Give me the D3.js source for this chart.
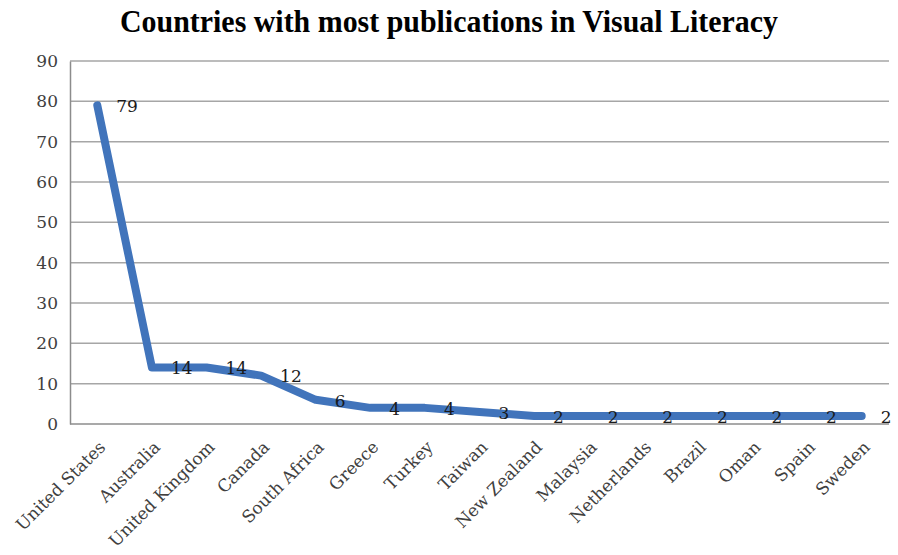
<!DOCTYPE html>
<html>
<head>
<meta charset="utf-8">
<script src="https://cdn.jsdelivr.net/npm/d3@7"></script>
<style>
  body { margin: 0; background: #fff; }
</style>
</head>
<body>
<div id="viz"></div>
<script>
var width = 898;
var height = 555;

var countries = ["United States", "Australia", "United Kingdom", "Canada", "South Africa", "Greece", "Turkey", "Taiwan", "New Zealand", "Malaysia", "Netherlands", "Brazil", "Oman", "Spain", "Sweden"];
var publications = [79, 14, 14, 12, 6, 4, 4, 3, 2, 2, 2, 2, 2, 2, 2];
var yTicks = [0, 10, 20, 30, 40, 50, 60, 70, 80, 90];

var data = countries.map(function(c, i) { return { country: c, value: publications[i] }; });

var plotLeft = 70, plotRight = 889, plotTop = 61, plotBottom = 424;

var x = d3.scalePoint()
	.domain(countries)
	.range([plotLeft, plotRight])
	.padding(0.5);

var y = d3.scaleLinear()
	.domain([0, 90])
	.range([plotBottom, plotTop]);

var svg = d3.select("#viz").append("svg")
	.attr("width", width)
	.attr("height", height);

svg.append("text")
	.attr("x", 449)
	.attr("y", 32)
	.attr("text-anchor", "middle")
	.style("font-family", "'Liberation Serif', 'Times New Roman', serif")
	.style("font-weight", "bold")
	.style("font-size", "31px")
	.attr("textLength", 658)
	.attr("lengthAdjust", "spacingAndGlyphs")
	.text("Countries with most publications in Visual Literacy");

// gridlines
svg.append("g")
	.selectAll("line")
	.data(yTicks.filter(function(d) { return d > 0; }))
	.enter().append("line")
		.attr("x1", plotLeft)
		.attr("x2", plotRight)
		.attr("y1", function(d) { return y(d); })
		.attr("y2", function(d) { return y(d); })
		.style("stroke", "#a6a6a6")
		.style("stroke-width", 1.5);

// axes
var yAxis = svg.append("g")
	.attr("transform", "translate(" + plotLeft + ",0)")
	.call(d3.axisLeft(y).tickValues(yTicks).tickSize(0).tickPadding(12));

yAxis.select(".domain").style("stroke", "#8c8c8c").style("stroke-width", 1.5);
yAxis.selectAll("text")
	.style("font-family", "'DejaVu Serif', serif")
	.style("font-size", "17px")
	.style("fill", "#404040");

var xAxis = svg.append("g")
	.attr("transform", "translate(0," + plotBottom + ")")
	.call(d3.axisBottom(x).tickSize(0).tickFormat(""));

xAxis.select(".domain").attr("d", "M" + plotLeft + ",0H" + plotRight).style("stroke", "#8c8c8c").style("stroke-width", 1.5);

svg.append("g")
	.selectAll("text")
	.data(countries)
	.enter().append("text")
		.attr("transform", function(d) { return "translate(" + (x(d) + 5) + "," + (plotBottom + 20) + ") rotate(-45)"; })
		.attr("text-anchor", "end")
		.attr("dy", "0.35em")
		.style("font-family", "'DejaVu Serif', serif")
		.style("font-size", "17px")
		.style("fill", "#404040")
		.text(function(d) { return d; });

// the line
var line = d3.line()
	.x(function(d) { return x(d.country); })
	.y(function(d) { return y(d.value); });

svg.append("path")
	.datum(data)
	.attr("d", line)
	.style("fill", "none")
	.style("stroke", "#4174bb")
	.style("stroke-width", 8)
	.style("stroke-linejoin", "round")
	.style("stroke-linecap", "round");

// data labels
svg.append("g")
	.selectAll("text")
	.data(data)
	.enter().append("text")
		.attr("x", function(d) { return x(d.country) + 19; })
		.attr("y", function(d) { return y(d.value); })
		.attr("dy", "0.4em")
		.style("font-family", "'DejaVu Serif', serif")
		.style("font-size", "17px")
		.style("fill", "#1a1a1a")
		.text(function(d) { return d.value; });
</script>
</body>
</html>
